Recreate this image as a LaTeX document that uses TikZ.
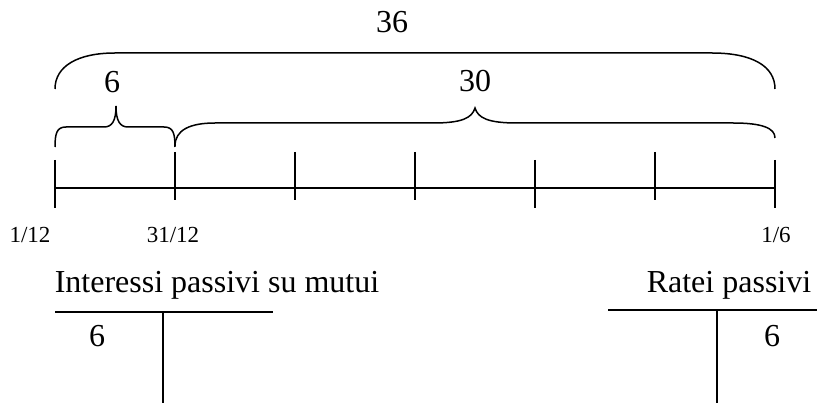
\documentclass[tikz,border=0pt]{standalone}
\usepackage{fontspec}
\setmainfont{Liberation Serif}
\begin{document}
\begin{tikzpicture}[x=1pt,y=-1pt,
  ln/.style={line width=1.5pt,black},
  big/.style={font=\fontsize{32}{38}\selectfont,anchor=base,inner sep=0pt},
  date/.style={font=\fontsize{23}{28}\selectfont,anchor=base,inner sep=0pt}]
\useasboundingbox (0,0) rectangle (817,403);
% timeline
\coordinate (t0) at (55,188);
\coordinate (t6) at (775,188);
\draw[ln] (t0) -- (t6);
\draw[ln] (55,160) -- (55,208);
\draw[ln] (175,152) -- (175,200);
\draw[ln] (295,152) -- (295,200);
\draw[ln] (415,152) -- (415,200);
\draw[ln] (535,160) -- (535,208);
\draw[ln] (655,152) -- (655,200);
\draw[ln] (775,160) -- (775,208);
% dates
\node[date] (d1) at (30,243) {1/12};
\node[date] (d2) at (173,243) {31/12};
\node[date] (d3) at (776,243) {1/6};
% big brace 36
\draw[ln] (55,89) .. controls (55,66) and (78,53) .. (115,53) -- (712,53)
  .. controls (752,53) and (775,66) .. (775,89);
\node[big] (l36) at (392,33) {36};
% small brace 6
\draw[ln] (55,147) .. controls (55,133) and (57,127) .. (66,127) -- (104,127)
  .. controls (112,127) and (116,121) .. (116,106)
  .. controls (116,121) and (120,127) .. (128,127) -- (164,127)
  .. controls (173,127) and (175,133) .. (175,147);
\node[big] (l6) at (112,93) {6};
% brace 30
\draw[ln] (175,146) .. controls (175,130) and (190,123) .. (215,123) -- (433,123)
  .. controls (462,123) and (472,118) .. (475,108)
  .. controls (478,118) and (488,123) .. (517,123) -- (733,123)
  .. controls (762,123) and (775,128) .. (775,138);
\node[big] (l30) at (475,92) {30};
% T accounts
\node[big] (a1) at (217,293) {Interessi passivi su mutui};
\draw[ln] (55,312) -- (273,312);
\draw[ln] (163,312) -- (163,403);
\node[big] (v1) at (97,347) {6};
\node[big] (a2) at (729,293) {Ratei passivi};
\draw[ln] (608,310) -- (817,310);
\draw[ln] (717,310) -- (717,403);
\node[big] (v2) at (772,347) {6};
\end{tikzpicture}
\end{document}
